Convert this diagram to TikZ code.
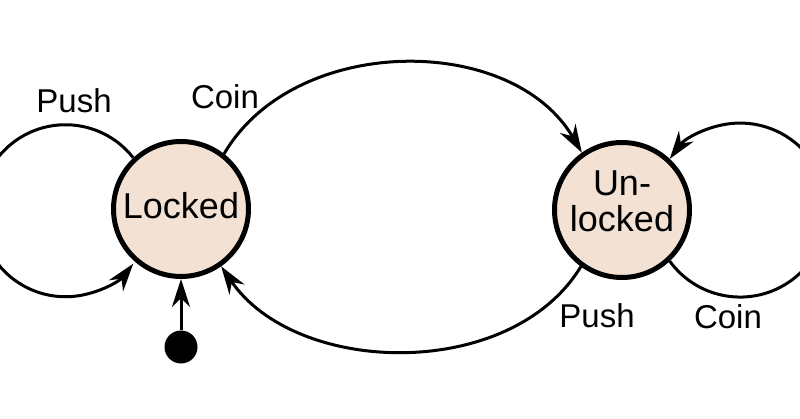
\documentclass[tikz,border=0pt]{standalone}
\usepackage{fontspec}
\setmainfont{Liberation Sans}
\usetikzlibrary{arrows.meta}
\definecolor{statefill}{RGB}{243,226,212}
\begin{document}
\begin{tikzpicture}[x=1pt,y=-1pt,
  state/.style={circle, draw=black, line width=5pt, fill=statefill, minimum size=135pt, inner sep=0pt, align=center, font=\fontsize{36}{37}\selectfont},
  startdot/.style={circle, fill=black, minimum size=33pt, inner sep=0pt},
  conn/.style={line width=3pt, -{Stealth[length=28pt, width=18pt, inset=9pt]}},
  lbl/.style={font=\fontsize{33}{35}\selectfont, inner sep=0pt}]
\useasboundingbox (0,0) rectangle (800,419);
\clip (0,0) rectangle (800,419);
\node[state, text depth=7pt] (L) at (181,209) {Locked};
\node[state, text depth=18pt] (U) at (622,210) {Un-\\[-1pt]locked};
\node[startdot] (S) at (181,347) {};
\draw[conn] (S) -- (L.south);
% Coin: Locked -> Unlocked
\draw[conn] (L.52) .. controls +(70,-120) and +(-70,-120) .. (U.125);
% Push: Unlocked -> Locked
\draw[conn] (U.234) .. controls +(-70,115) and +(75,110) .. (L.305);
% self loops
\draw[conn] (L.133) arc[start angle=-38, end angle=-322, radius=86];
\draw[conn] (U.-47) arc[start angle=144, end angle=-144, radius=87];
% labels
\node[lbl] (lpush) at (74,101) {Push};
\node[lbl] (lcoin) at (225,97) {Coin};
\node[lbl] (rpush) at (597,316) {Push};
\node[lbl] (rcoin) at (728,317) {Coin};
\end{tikzpicture}
\end{document}
